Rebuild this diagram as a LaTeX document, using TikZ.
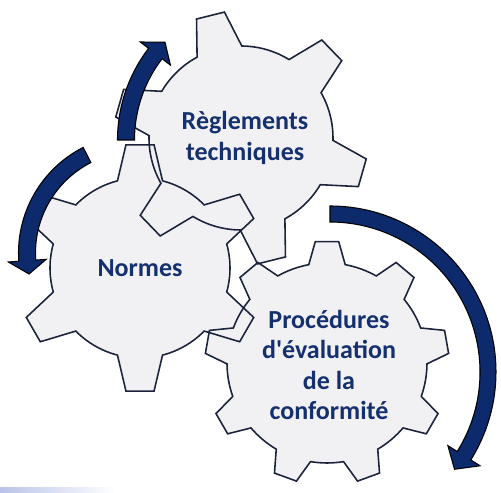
\documentclass[tikz,border=0pt]{standalone}
\usepackage{fontspec}
\setmainfont{Carlito}[Ligatures=TeXOff]
\usepackage{tikz}
\usetikzlibrary{calc}

\definecolor{navy}{RGB}{12,42,108}
\definecolor{textblue}{RGB}{20,48,110}
\definecolor{gearfill}{RGB}{241,241,243}
\definecolor{gearline}{RGB}{28,36,60}
\definecolor{smear}{RGB}{185,195,232}

% gear outline: center, teeth, first tooth, tip radius, root radius, tip half angle, root half angle
\newcommand{\gearpath}[7]{%
	($(#1)+(#3-#7:#5)$)
	\foreach \k [evaluate=\k as \a using {#3+360/#2*(\k-1)}] in {1,...,#2}{
		-- ($(#1)+(\a-#6:#4)$) -- ($(#1)+(\a+#6:#4)$) -- ($(#1)+(\a+#7:#5)$)
		arc[start angle=\a+#7, end angle=\a+360/#2-#7, radius=#5]
	} -- cycle}

% bent arrow: center, radius, start, end, half width, head half width, head length (deg)
\newcommand{\bentarrow}[7]{%
	($(#1)+(#3:#2+#5)$) arc[start angle=#3, end angle=#4, radius=#2+#5]
	-- ($(#1)+(#4:#2+#6)$) -- ($(#1)+(#4+#7:#2)$) -- ($(#1)+(#4:#2-#6)$)
	-- ($(#1)+(#4:#2-#5)$) arc[start angle=#4, end angle=#3, radius=#2-#5] -- cycle}

\tikzset{
	gear/.style={fill=gearfill},
	gearedge/.style={draw=gearline, line width=0.9pt, line join=miter},
	bluearrow/.style={fill=navy, draw=black, line width=0.6pt, line join=miter},
	label/.style={text=textblue, align=center, font=\bfseries\fontsize{14.8}{17.2}\selectfont}
}

\begin{document}
\begin{tikzpicture}[x=0.2mm,y=0.2mm]
		\useasboundingbox (0,0) rectangle (501,493);
		\coordinate (mR) at (241,355);
		\coordinate (mN) at (140,225);
		\coordinate (mC) at (327,130);
		
		%shadow bottom left
		\shade[left color=smear, right color=white] (0,0) rectangle (115,5);
		
		%gears, fill first
		\fill[gear] \gearpath{mR}{6}{104}{127}{92}{6.5}{14.5};
		\fill[gear] \gearpath{mN}{6}{90}{124}{90}{6.5}{14.5};
		\fill[gear] \gearpath{mC}{9}{90}{122}{100}{5.5}{10.5};
		%then outlines
		\draw[gearedge] \gearpath{mR}{6}{104}{127}{92}{6.5}{14.5};
		\draw[gearedge] \gearpath{mN}{6}{90}{124}{90}{6.5}{14.5};
		\draw[gearedge] \gearpath{mC}{9}{90}{122}{100}{5.5}{10.5};
		
		%arrows
		\coordinate (aR) at (268,353);
		\coordinate (aN) at (137,240);
		\coordinate (aC) at (330,121);
		\path[bluearrow] \bentarrow{aR}{142}{180}{142.5}{8.5}{19}{-6};
		\path[bluearrow] \bentarrow{aN}{110}{117}{184}{8.5}{19}{7};
		\path[bluearrow] \bentarrow{aC}{158}{90}{-32}{8}{19}{-6};
		
		%texts
		\node[label] (rules) at (245,355) {Règlements\\techniques};
		\node[label] (norms) at (mN) {Normes};
		\node[label] (procs) at (329,128) {Procédures\\d'évaluation\\de la\\conformité};
		
\end{tikzpicture}
\end{document}
